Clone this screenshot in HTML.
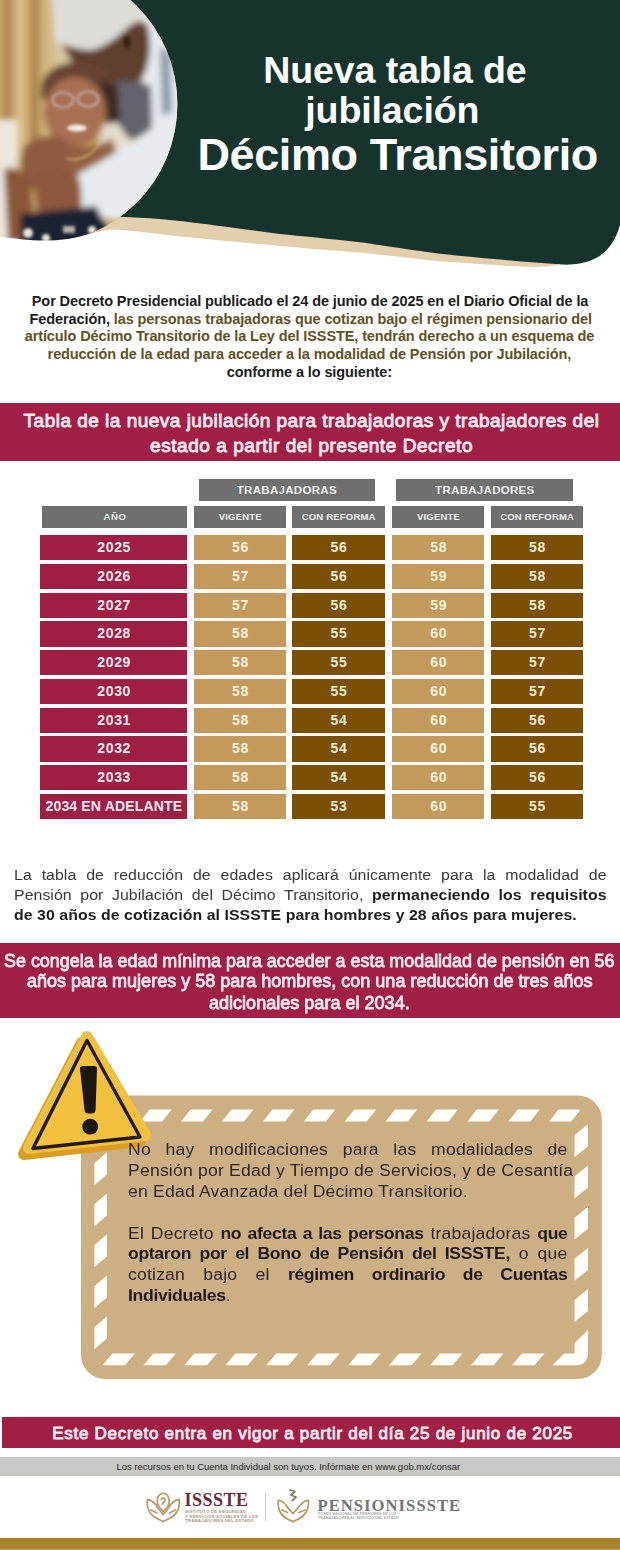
<!DOCTYPE html>
<html lang="es">
<head>
<meta charset="utf-8">
<title>Nueva tabla de jubilación Décimo Transitorio</title>
<style>
*{margin:0;padding:0;box-sizing:border-box}
html,body{width:620px;height:1550px;overflow:hidden;background:#fff}
body{position:relative;font-family:"Liberation Sans",sans-serif}
.abs{position:absolute}
.ln{position:absolute;white-space:nowrap;transform-origin:0 50%}
.w{color:#fff;font-weight:bold}
.intro{font-weight:bold;color:#1c1c1c;letter-spacing:-0.1px}
.ol{color:#615126}
.band{position:absolute;left:0;width:620px;background:#a11f44}
.bt{color:#fbeaf0;font-weight:bold}
.bs{color:#fbeaf0;font-weight:normal;-webkit-text-stroke:0.85px #fbeaf0}
.cell{position:absolute;text-align:center;font-weight:bold;white-space:nowrap}
.hd{background:#6f6f6f;color:#f2f2f2}
.yr{background:#9f1e43;color:#f8e8ef}
.tan{background:#c4995c;color:#fdf3de}
.brn{background:#7a5007;color:#f9eed6}
.para{color:#3a3a3a;letter-spacing:0.05px}
.para b{color:#1e1e1e}
.box{color:#2d241b;letter-spacing:0.17px}
.box b{letter-spacing:-0.3px;color:#201810}
.jl{position:absolute;text-align:justify;text-align-last:justify;white-space:nowrap}
</style>
</head>
<body>
<svg class="abs" style="left:0;top:0" width="620" height="290" viewBox="0 0 620 290">
<defs>
<clipPath id="circ"><circle cx="38" cy="104.3" r="139.4"/></clipPath>
<filter id="bl" x="-30%" y="-30%" width="160%" height="160%"><feGaussianBlur stdDeviation="3"/></filter>
<filter id="bl2" x="-30%" y="-30%" width="160%" height="160%"><feGaussianBlur stdDeviation="1.5"/></filter>
</defs>
<path d="M90 200 L557 200 L557 272 L90 272 Z" fill="#e3ceae"/>
<path d="M0 0 L620 0 L620 224.8 C616 240 608 252 596 258 C585 263.5 575 265 562 264.6 C520 261.5 470 257 440 253.8 C400 248.5 370 243.5 360 242.3 C330 238.5 300 236 280 233.9 C240 229 200 223 180 221 C160 219 140 217.5 120.6 216.8 L0 216 Z" fill="#16342d"/>
<g clip-path="url(#circ)">
<rect x="-110" y="0" width="300" height="260" fill="#c4a169"/>
<g filter="url(#bl)">
<rect x="-15" y="-20" width="85" height="280" fill="#c9a66b"/>
<rect x="3" y="-20" width="8" height="180" fill="#ae8650"/>
<rect x="17" y="-20" width="8" height="180" fill="#dcc08a"/>
<rect x="31" y="-20" width="7" height="170" fill="#a98250"/>
<rect x="44" y="-20" width="6" height="170" fill="#d8ba84"/>
<rect x="52" y="-20" width="18" height="90" fill="#d9c5a0"/>
<path d="M100 100 L130 105 L132 155 L100 160 Z" fill="#e6dccc"/>
<rect x="-15" y="120" width="32" height="140" fill="#ece6dd"/>

<rect x="70" y="-20" width="70" height="100" fill="#d2c5b0"/>
<path d="M140 -20 L190 -20 L190 245 L152 245 L140 150 L134 95 L142 80 Z" fill="#e6eaef"/>
<path d="M60 38 C75 48 100 50 118 34 C128 24 140 18 147 24 C153 42 150 68 140 82 C126 90 104 88 90 80 C78 72 66 56 60 38 Z" fill="#5f3f2f"/>
<path d="M50 -20 L152 -20 L146 16 C138 20 132 24 128 27 C118 37 106 46 92 50 C80 50 68 46 55 42 Z" fill="#e0ddd8"/>

<path d="M114 84 C126 80 140 80 151 86 L152 130 C146 138 136 140 128 138 L114 118 Z" fill="#62646c"/>
<path d="M160 48 L170 52 L172 112 L162 116 Z" fill="#8b97a8"/>
<path d="M41 90 C42 72 58 62 78 62 C98 62 112 72 116 88 C110 94 100 90 90 90 C75 90 55 96 41 100 Z" fill="#674230"/>
<path d="M98 80 L118 86 L120 122 L106 124 Z" fill="#3e2a22"/>
<ellipse cx="75" cy="112" rx="31" ry="35" fill="#a86f52"/>
<path d="M60 138 C75 150 95 150 112 138 L124 178 C105 188 80 188 64 178 Z" fill="#93603f"/>
<path d="M66 180 C95 166 130 146 176 110 L178 185 C160 205 140 218 120 220 C100 220 80 210 66 192 Z" fill="#e7ebf0"/>
<path d="M22 150 C30 136 52 132 66 140 C70 150 68 168 60 176 C50 186 40 190 30 190 C22 180 20 165 22 150 Z" fill="#8e5a3f"/>
<path d="M34 178 C46 166 66 166 78 176 C84 192 82 214 74 228 C62 236 46 234 38 222 Z" fill="#8d593c"/>
<path d="M4 170 C12 165 24 170 30 182 L36 240 L8 242 Z" fill="#8a5639"/>
<path d="M20 214 L96 206 L108 230 L104 248 L20 248 Z" fill="#1e2232"/>
</g>
<g filter="url(#bl2)">
<ellipse cx="63" cy="100" rx="10.5" ry="7.5" fill="none" stroke="#c9b4c4" stroke-width="1.7"/>
<ellipse cx="88" cy="99" rx="10.5" ry="7.5" fill="none" stroke="#c9b4c4" stroke-width="1.7"/>
<ellipse cx="77" cy="128" rx="10" ry="3.5" fill="#f4e9e4"/>
<path d="M66 158 C78 163 92 155 100 143" fill="none" stroke="#e0c78e" stroke-width="1.2"/>
<circle cx="28" cy="233" r="5" fill="#e8e4de"/>
<circle cx="46" cy="238" r="4" fill="#e8e4de"/>
<circle cx="92" cy="230" r="4" fill="#e8e4de"/>
<rect x="63" y="226" width="12" height="7" fill="#b9b3ad"/>
<ellipse cx="127" cy="42" rx="4" ry="6" fill="#3a2418"/>
</g>
</g>
<path d="M0 237 C10 238 30 240.5 45 240.6 C60 240.5 72 238.5 80 236.5 C90 234 100 231.5 110 229.6 C130 230 150 233.5 180 236.5 C220 240.5 250 243 280 246.1 C310 249 340 251 360 252.6 C390 255.5 420 259.5 440 261.3 C470 263.5 500 265.5 520 266.5 C535 267.2 548 267 556 265.5 L562 265.8 C575 266.5 590 270 620 276 L620 290 L0 290 Z" fill="#fff"/>
</svg>
<div class="ln w" style="left:263.3px;top:52.0px;font-size:37.5px;line-height:37.50px;letter-spacing:-0.1px">Nueva tabla de</div>
<div class="ln w" style="left:305.3px;top:92.0px;font-size:37.5px;line-height:37.50px;letter-spacing:-0.1px">jubilación</div>
<div class="ln w" style="left:197.5px;top:132.2px;font-size:45px;line-height:45.00px;letter-spacing:-0.4px">Décimo Transitorio</div>
<div class="ln intro" style="left:31.8px;top:294.1px;font-size:14.5px;line-height:14.50px;">Por Decreto Presidencial publicado el 24 de junio de 2025 en el Diario Oficial de la</div>
<div class="ln intro" style="left:29.6px;top:311.6px;font-size:14.5px;line-height:14.50px;">Federación,<span class="ol"> las personas trabajadoras que cotizan bajo el régimen pensionario del</span></div>
<div class="ln intro ol" style="left:24.7px;top:329.4px;font-size:14.5px;line-height:14.50px;">artículo Décimo Transitorio de la Ley del ISSSTE, tendrán derecho a un esquema de</div>
<div class="ln intro ol" style="left:47.6px;top:346.8px;font-size:14.5px;line-height:14.50px;">reducción de la edad para acceder a la modalidad de Pensión por Jubilación,</div>
<div class="ln intro" style="left:226.7px;top:364.7px;font-size:14.5px;line-height:14.50px;">conforme a lo siguiente:</div>
<div class="band" style="top:403.2px;height:58.2px"></div>
<div class="ln bs" style="left:23.6px;top:410.8px;font-size:19px;line-height:19.00px;letter-spacing:0.49px">Tabla de la nueva jubilación para trabajadoras y trabajadores del</div>
<div class="ln bs" style="left:150.1px;top:436.3px;font-size:19px;line-height:19.00px;letter-spacing:0.55px">estado a partir del presente Decreto</div>
<div class="cell hd" style="left:198.5px;top:478.6px;width:176.4px;height:22.2px;line-height:22.2px;font-size:11.5px;letter-spacing:0.3px;text-indent:0.3px"><span style="position:relative;top:0px">TRABAJADORAS</span></div>
<div class="cell hd" style="left:396.2px;top:478.6px;width:177.0px;height:22.2px;line-height:22.2px;font-size:11.5px;letter-spacing:0.3px;text-indent:0.3px"><span style="position:relative;top:0px">TRABAJADORES</span></div>
<div class="cell hd" style="left:41.9px;top:505.8px;width:145.5px;height:22.7px;line-height:22.7px;font-size:9.6px;letter-spacing:0.6px;text-indent:0.6px"><span style="position:relative;top:0px">AÑO</span></div>
<div class="cell hd" style="left:194.0px;top:505.8px;width:92.4px;height:22.7px;line-height:22.7px;font-size:9.5px;letter-spacing:0.2px;text-indent:0.2px"><span style="position:relative;top:0px">VIGENTE</span></div>
<div class="cell hd" style="left:292.4px;top:505.8px;width:92.4px;height:22.7px;line-height:22.7px;font-size:9.5px;letter-spacing:0.2px;text-indent:0.2px"><span style="position:relative;top:0px">CON REFORMA</span></div>
<div class="cell hd" style="left:392.3px;top:505.8px;width:92.2px;height:22.7px;line-height:22.7px;font-size:9.5px;letter-spacing:0.2px;text-indent:0.2px"><span style="position:relative;top:0px">VIGENTE</span></div>
<div class="cell hd" style="left:490.9px;top:505.8px;width:92.3px;height:22.7px;line-height:22.7px;font-size:9.5px;letter-spacing:0.2px;text-indent:0.2px"><span style="position:relative;top:0px">CON REFORMA</span></div>
<div class="cell yr" style="left:40.3px;top:534.9px;width:147.0px;height:25.4px;line-height:25.4px;font-size:14px;letter-spacing:0.7px;text-indent:0.7px"><span style="position:relative;top:0px">2025</span></div>
<div class="cell tan" style="left:194.0px;top:534.9px;width:92.4px;height:25.4px;line-height:25.4px;font-size:14px;letter-spacing:0.7px;text-indent:0.7px"><span style="position:relative;top:0px">56</span></div>
<div class="cell brn" style="left:292.4px;top:534.9px;width:92.4px;height:25.4px;line-height:25.4px;font-size:14px;letter-spacing:0.7px;text-indent:0.7px"><span style="position:relative;top:0px">56</span></div>
<div class="cell tan" style="left:392.3px;top:534.9px;width:92.2px;height:25.4px;line-height:25.4px;font-size:14px;letter-spacing:0.7px;text-indent:0.7px"><span style="position:relative;top:0px">58</span></div>
<div class="cell brn" style="left:490.9px;top:534.9px;width:92.3px;height:25.4px;line-height:25.4px;font-size:14px;letter-spacing:0.7px;text-indent:0.7px"><span style="position:relative;top:0px">58</span></div>
<div class="cell yr" style="left:40.3px;top:563.7px;width:147.0px;height:25.4px;line-height:25.4px;font-size:14px;letter-spacing:0.7px;text-indent:0.7px"><span style="position:relative;top:0px">2026</span></div>
<div class="cell tan" style="left:194.0px;top:563.7px;width:92.4px;height:25.4px;line-height:25.4px;font-size:14px;letter-spacing:0.7px;text-indent:0.7px"><span style="position:relative;top:0px">57</span></div>
<div class="cell brn" style="left:292.4px;top:563.7px;width:92.4px;height:25.4px;line-height:25.4px;font-size:14px;letter-spacing:0.7px;text-indent:0.7px"><span style="position:relative;top:0px">56</span></div>
<div class="cell tan" style="left:392.3px;top:563.7px;width:92.2px;height:25.4px;line-height:25.4px;font-size:14px;letter-spacing:0.7px;text-indent:0.7px"><span style="position:relative;top:0px">59</span></div>
<div class="cell brn" style="left:490.9px;top:563.7px;width:92.3px;height:25.4px;line-height:25.4px;font-size:14px;letter-spacing:0.7px;text-indent:0.7px"><span style="position:relative;top:0px">58</span></div>
<div class="cell yr" style="left:40.3px;top:592.5px;width:147.0px;height:25.4px;line-height:25.4px;font-size:14px;letter-spacing:0.7px;text-indent:0.7px"><span style="position:relative;top:0px">2027</span></div>
<div class="cell tan" style="left:194.0px;top:592.5px;width:92.4px;height:25.4px;line-height:25.4px;font-size:14px;letter-spacing:0.7px;text-indent:0.7px"><span style="position:relative;top:0px">57</span></div>
<div class="cell brn" style="left:292.4px;top:592.5px;width:92.4px;height:25.4px;line-height:25.4px;font-size:14px;letter-spacing:0.7px;text-indent:0.7px"><span style="position:relative;top:0px">56</span></div>
<div class="cell tan" style="left:392.3px;top:592.5px;width:92.2px;height:25.4px;line-height:25.4px;font-size:14px;letter-spacing:0.7px;text-indent:0.7px"><span style="position:relative;top:0px">59</span></div>
<div class="cell brn" style="left:490.9px;top:592.5px;width:92.3px;height:25.4px;line-height:25.4px;font-size:14px;letter-spacing:0.7px;text-indent:0.7px"><span style="position:relative;top:0px">58</span></div>
<div class="cell yr" style="left:40.3px;top:621.2px;width:147.0px;height:25.4px;line-height:25.4px;font-size:14px;letter-spacing:0.7px;text-indent:0.7px"><span style="position:relative;top:0px">2028</span></div>
<div class="cell tan" style="left:194.0px;top:621.2px;width:92.4px;height:25.4px;line-height:25.4px;font-size:14px;letter-spacing:0.7px;text-indent:0.7px"><span style="position:relative;top:0px">58</span></div>
<div class="cell brn" style="left:292.4px;top:621.2px;width:92.4px;height:25.4px;line-height:25.4px;font-size:14px;letter-spacing:0.7px;text-indent:0.7px"><span style="position:relative;top:0px">55</span></div>
<div class="cell tan" style="left:392.3px;top:621.2px;width:92.2px;height:25.4px;line-height:25.4px;font-size:14px;letter-spacing:0.7px;text-indent:0.7px"><span style="position:relative;top:0px">60</span></div>
<div class="cell brn" style="left:490.9px;top:621.2px;width:92.3px;height:25.4px;line-height:25.4px;font-size:14px;letter-spacing:0.7px;text-indent:0.7px"><span style="position:relative;top:0px">57</span></div>
<div class="cell yr" style="left:40.3px;top:650.0px;width:147.0px;height:25.4px;line-height:25.4px;font-size:14px;letter-spacing:0.7px;text-indent:0.7px"><span style="position:relative;top:0px">2029</span></div>
<div class="cell tan" style="left:194.0px;top:650.0px;width:92.4px;height:25.4px;line-height:25.4px;font-size:14px;letter-spacing:0.7px;text-indent:0.7px"><span style="position:relative;top:0px">58</span></div>
<div class="cell brn" style="left:292.4px;top:650.0px;width:92.4px;height:25.4px;line-height:25.4px;font-size:14px;letter-spacing:0.7px;text-indent:0.7px"><span style="position:relative;top:0px">55</span></div>
<div class="cell tan" style="left:392.3px;top:650.0px;width:92.2px;height:25.4px;line-height:25.4px;font-size:14px;letter-spacing:0.7px;text-indent:0.7px"><span style="position:relative;top:0px">60</span></div>
<div class="cell brn" style="left:490.9px;top:650.0px;width:92.3px;height:25.4px;line-height:25.4px;font-size:14px;letter-spacing:0.7px;text-indent:0.7px"><span style="position:relative;top:0px">57</span></div>
<div class="cell yr" style="left:40.3px;top:678.8px;width:147.0px;height:25.4px;line-height:25.4px;font-size:14px;letter-spacing:0.7px;text-indent:0.7px"><span style="position:relative;top:0px">2030</span></div>
<div class="cell tan" style="left:194.0px;top:678.8px;width:92.4px;height:25.4px;line-height:25.4px;font-size:14px;letter-spacing:0.7px;text-indent:0.7px"><span style="position:relative;top:0px">58</span></div>
<div class="cell brn" style="left:292.4px;top:678.8px;width:92.4px;height:25.4px;line-height:25.4px;font-size:14px;letter-spacing:0.7px;text-indent:0.7px"><span style="position:relative;top:0px">55</span></div>
<div class="cell tan" style="left:392.3px;top:678.8px;width:92.2px;height:25.4px;line-height:25.4px;font-size:14px;letter-spacing:0.7px;text-indent:0.7px"><span style="position:relative;top:0px">60</span></div>
<div class="cell brn" style="left:490.9px;top:678.8px;width:92.3px;height:25.4px;line-height:25.4px;font-size:14px;letter-spacing:0.7px;text-indent:0.7px"><span style="position:relative;top:0px">57</span></div>
<div class="cell yr" style="left:40.3px;top:707.6px;width:147.0px;height:25.4px;line-height:25.4px;font-size:14px;letter-spacing:0.7px;text-indent:0.7px"><span style="position:relative;top:0px">2031</span></div>
<div class="cell tan" style="left:194.0px;top:707.6px;width:92.4px;height:25.4px;line-height:25.4px;font-size:14px;letter-spacing:0.7px;text-indent:0.7px"><span style="position:relative;top:0px">58</span></div>
<div class="cell brn" style="left:292.4px;top:707.6px;width:92.4px;height:25.4px;line-height:25.4px;font-size:14px;letter-spacing:0.7px;text-indent:0.7px"><span style="position:relative;top:0px">54</span></div>
<div class="cell tan" style="left:392.3px;top:707.6px;width:92.2px;height:25.4px;line-height:25.4px;font-size:14px;letter-spacing:0.7px;text-indent:0.7px"><span style="position:relative;top:0px">60</span></div>
<div class="cell brn" style="left:490.9px;top:707.6px;width:92.3px;height:25.4px;line-height:25.4px;font-size:14px;letter-spacing:0.7px;text-indent:0.7px"><span style="position:relative;top:0px">56</span></div>
<div class="cell yr" style="left:40.3px;top:736.4px;width:147.0px;height:25.4px;line-height:25.4px;font-size:14px;letter-spacing:0.7px;text-indent:0.7px"><span style="position:relative;top:0px">2032</span></div>
<div class="cell tan" style="left:194.0px;top:736.4px;width:92.4px;height:25.4px;line-height:25.4px;font-size:14px;letter-spacing:0.7px;text-indent:0.7px"><span style="position:relative;top:0px">58</span></div>
<div class="cell brn" style="left:292.4px;top:736.4px;width:92.4px;height:25.4px;line-height:25.4px;font-size:14px;letter-spacing:0.7px;text-indent:0.7px"><span style="position:relative;top:0px">54</span></div>
<div class="cell tan" style="left:392.3px;top:736.4px;width:92.2px;height:25.4px;line-height:25.4px;font-size:14px;letter-spacing:0.7px;text-indent:0.7px"><span style="position:relative;top:0px">60</span></div>
<div class="cell brn" style="left:490.9px;top:736.4px;width:92.3px;height:25.4px;line-height:25.4px;font-size:14px;letter-spacing:0.7px;text-indent:0.7px"><span style="position:relative;top:0px">56</span></div>
<div class="cell yr" style="left:40.3px;top:765.1px;width:147.0px;height:25.4px;line-height:25.4px;font-size:14px;letter-spacing:0.7px;text-indent:0.7px"><span style="position:relative;top:0px">2033</span></div>
<div class="cell tan" style="left:194.0px;top:765.1px;width:92.4px;height:25.4px;line-height:25.4px;font-size:14px;letter-spacing:0.7px;text-indent:0.7px"><span style="position:relative;top:0px">58</span></div>
<div class="cell brn" style="left:292.4px;top:765.1px;width:92.4px;height:25.4px;line-height:25.4px;font-size:14px;letter-spacing:0.7px;text-indent:0.7px"><span style="position:relative;top:0px">54</span></div>
<div class="cell tan" style="left:392.3px;top:765.1px;width:92.2px;height:25.4px;line-height:25.4px;font-size:14px;letter-spacing:0.7px;text-indent:0.7px"><span style="position:relative;top:0px">60</span></div>
<div class="cell brn" style="left:490.9px;top:765.1px;width:92.3px;height:25.4px;line-height:25.4px;font-size:14px;letter-spacing:0.7px;text-indent:0.7px"><span style="position:relative;top:0px">56</span></div>
<div class="cell yr" style="left:40.3px;top:793.9px;width:147.0px;height:25.4px;line-height:25.4px;font-size:14px;letter-spacing:0.17px;text-indent:0.17px"><span style="position:relative;top:0px">2034 EN ADELANTE</span></div>
<div class="cell tan" style="left:194.0px;top:793.9px;width:92.4px;height:25.4px;line-height:25.4px;font-size:14px;letter-spacing:0.7px;text-indent:0.7px"><span style="position:relative;top:0px">58</span></div>
<div class="cell brn" style="left:292.4px;top:793.9px;width:92.4px;height:25.4px;line-height:25.4px;font-size:14px;letter-spacing:0.7px;text-indent:0.7px"><span style="position:relative;top:0px">53</span></div>
<div class="cell tan" style="left:392.3px;top:793.9px;width:92.2px;height:25.4px;line-height:25.4px;font-size:14px;letter-spacing:0.7px;text-indent:0.7px"><span style="position:relative;top:0px">60</span></div>
<div class="cell brn" style="left:490.9px;top:793.9px;width:92.3px;height:25.4px;line-height:25.4px;font-size:14px;letter-spacing:0.7px;text-indent:0.7px"><span style="position:relative;top:0px">55</span></div>
<div class="jl para" style="left:14px;width:548.70px;top:868.0px;font-size:14.7px;line-height:14.7px;transform:scaleX(1.08);transform-origin:0 0;">La tabla de reducción de edades aplicará únicamente para la modalidad de</div>
<div class="jl para" style="left:14px;width:548.70px;top:887.8px;font-size:14.7px;line-height:14.7px;transform:scaleX(1.08);transform-origin:0 0;">Pensión por Jubilación del Décimo Transitorio, <b>permaneciendo los requisitos</b></div>
<div class="ln para" style="left:14px;top:907.6px;font-size:14.7px;line-height:14.7px;transform:scaleX(1.08);transform-origin:0 0;"><b>de 30 años de cotización al ISSSTE para hombres y 28 años para mujeres.</b></div>
<div class="band" style="top:942.7px;height:75.8px"></div>
<div class="ln bs" style="left:4.4px;top:950.9px;font-size:19px;line-height:19px;transform:scaleX(0.9427);transform-origin:0 0">Se congela la edad mínima para acceder a esta modalidad de pensión en 56</div>
<div class="ln bs" style="left:26.9px;top:971.2px;font-size:19px;line-height:19px;transform:scaleX(0.9478);transform-origin:0 0">años para mujeres y 58 para hombres, con una reducción de tres años</div>
<div class="ln bs" style="left:209.2px;top:992.8px;font-size:19px;line-height:19px;transform:scaleX(0.9500);transform-origin:0 0">adicionales para el 2034.</div>
<svg class="abs" style="left:0;top:1020px" width="620" height="370" viewBox="0 1020 620 370"><defs><clipPath id="ring"><path clip-rule="evenodd" d="M105.4 1109.5 H577.0 A11 11 0 0 1 588.0 1120.5 V1354.2 A11 11 0 0 1 577.0 1365.2 H105.4 A11 11 0 0 1 94.4 1354.2 V1120.5 A11 11 0 0 1 105.4 1109.5 Z M107.0 1121.6 H574.5 V1353.5 H107.0 Z"/></clipPath></defs><rect x="81.0" y="1095.5" width="520.8" height="283.5" rx="24" fill="#cdaf84"/><g clip-path="url(#ring)" fill="#fffdf7"><polygon points="98.5,1122.6 120.5,1122.6 131.5,1108.5 109.5,1108.5"/><polygon points="139.4,1122.6 161.4,1122.6 172.4,1108.5 150.4,1108.5"/><polygon points="180.3,1122.6 202.3,1122.6 213.3,1108.5 191.3,1108.5"/><polygon points="221.2,1122.6 243.2,1122.6 254.2,1108.5 232.2,1108.5"/><polygon points="262.1,1122.6 284.1,1122.6 295.1,1108.5 273.1,1108.5"/><polygon points="303.0,1122.6 325.0,1122.6 336.0,1108.5 314.0,1108.5"/><polygon points="343.9,1122.6 365.9,1122.6 376.9,1108.5 354.9,1108.5"/><polygon points="384.8,1122.6 406.8,1122.6 417.8,1108.5 395.8,1108.5"/><polygon points="425.7,1122.6 447.7,1122.6 458.7,1108.5 436.7,1108.5"/><polygon points="466.6,1122.6 488.6,1122.6 499.6,1108.5 477.6,1108.5"/><polygon points="507.5,1122.6 529.5,1122.6 540.5,1108.5 518.5,1108.5"/><polygon points="548.4,1122.6 570.4,1122.6 581.4,1108.5 559.4,1108.5"/><polygon points="101.7,1366.2 124.2,1366.2 135.7,1352.5 113.2,1352.5"/><polygon points="142.7,1366.2 165.2,1366.2 176.7,1352.5 154.2,1352.5"/><polygon points="183.6,1366.2 206.1,1366.2 217.6,1352.5 195.1,1352.5"/><polygon points="224.6,1366.2 247.1,1366.2 258.6,1352.5 236.1,1352.5"/><polygon points="265.5,1366.2 288.0,1366.2 299.5,1352.5 277.0,1352.5"/><polygon points="306.4,1366.2 328.9,1366.2 340.4,1352.5 317.9,1352.5"/><polygon points="347.4,1366.2 369.9,1366.2 381.4,1352.5 358.9,1352.5"/><polygon points="388.4,1366.2 410.9,1366.2 422.4,1352.5 399.9,1352.5"/><polygon points="429.3,1366.2 451.8,1366.2 463.3,1352.5 440.8,1352.5"/><polygon points="470.2,1366.2 492.8,1366.2 504.2,1352.5 481.8,1352.5"/><polygon points="511.2,1366.2 533.7,1366.2 545.2,1352.5 522.7,1352.5"/><polygon points="538,1379.7 592,1325.7 600,1325.7 600,1380 538,1380"/><polygon points="573.5,1136.0 589.0,1123.5 589.0,1145.5 573.5,1158.0"/><polygon points="573.5,1177.2 589.0,1164.7 589.0,1186.7 573.5,1199.2"/><polygon points="573.5,1218.4 589.0,1205.9 589.0,1227.9 573.5,1240.4"/><polygon points="573.5,1259.6 589.0,1247.1 589.0,1269.1 573.5,1281.6"/><polygon points="573.5,1300.8 589.0,1288.3 589.0,1310.3 573.5,1322.8"/><polygon points="93.4,1123.1 108.0,1110.5 108.0,1132.5 93.4,1145.1"/><polygon points="93.4,1164.1 108.0,1151.5 108.0,1173.5 93.4,1186.1"/><polygon points="93.4,1205.1 108.0,1192.5 108.0,1214.5 93.4,1227.1"/><polygon points="93.4,1246.1 108.0,1233.5 108.0,1255.5 93.4,1268.1"/><polygon points="93.4,1287.1 108.0,1274.5 108.0,1296.5 93.4,1309.1"/><polygon points="93.4,1328.1 108.0,1315.5 108.0,1337.5 93.4,1350.1"/></g><g stroke-linejoin="round">
<polygon points="82,1043 24,1154 140,1141" fill="#dc9e22" stroke="#dc9e22" stroke-width="12"/>
<polygon points="87,1037 29,1148 145,1135" fill="#f4c03f" stroke="#f4c03f" stroke-width="12"/>
<polygon points="87,1040.5 33,1148.5 140,1137" fill="none" stroke="#221a10" stroke-width="3.4"/>
<path d="M80 1069 C80 1065.5 82 1066 88.5 1066 C95 1066 97 1065.5 97 1069 L95.6 1109 C95.5 1113 94 1113.5 90 1113.5 C86 1113.5 84.5 1113 84.4 1109 Z" fill="#1d1712"/>
<circle cx="90.2" cy="1126.6" r="7.9" fill="#1d1712"/>
</g></svg>
<div class="jl box" style="left:128px;width:399.55px;top:1141.9px;font-size:16px;line-height:16px;transform:scaleX(1.1);transform-origin:0 0;">No hay modificaciones para las modalidades de</div>
<div class="jl box" style="left:128px;width:399.55px;top:1162.8px;font-size:16px;line-height:16px;transform:scaleX(1.1);transform-origin:0 0;">Pensión por Edad y Tiempo de Servicios, y de Cesantía</div>
<div class="ln box" style="left:128px;top:1183.7px;font-size:16px;line-height:16px;transform:scaleX(1.1);transform-origin:0 0;">en Edad Avanzada del Décimo Transitorio.</div>
<div class="jl box" style="left:128px;width:399.55px;top:1225.5px;font-size:16px;line-height:16px;transform:scaleX(1.1);transform-origin:0 0;">El Decreto <b>no afecta a las personas</b> trabajadoras <b>que</b></div>
<div class="jl box" style="left:128px;width:399.55px;top:1246.4px;font-size:16px;line-height:16px;transform:scaleX(1.1);transform-origin:0 0;"><b>optaron por el Bono de Pensión del ISSSTE,</b> o que</div>
<div class="jl box" style="left:128px;width:399.55px;top:1267.3px;font-size:16px;line-height:16px;transform:scaleX(1.1);transform-origin:0 0;">cotizan bajo el <b>régimen ordinario de Cuentas</b></div>
<div class="ln box" style="left:128px;top:1288.2px;font-size:16px;line-height:16px;transform:scaleX(1.1);transform-origin:0 0;"><b>Individuales</b>.</div>
<div class="band" style="left:1.5px;width:618.5px;top:1416.9px;height:30.9px"></div>
<div class="ln bs" style="left:52.2px;top:1424.8px;font-size:17px;line-height:17.00px;letter-spacing:0.725px">Este Decreto entra en vigor a partir del día 25 de junio de 2025</div>
<div class="abs" style="left:0;top:1457.3px;width:620px;height:18.9px;background:#c8c8c4"></div>
<div class="ln " style="left:116.4px;top:1461.8px;font-size:9.5px;line-height:9.50px;color:#262626">Los recursos en tu Cuenta Individual son tuyos. Infórmate en www.gob.mx/consar</div>
<svg class="abs" style="left:0;top:1485px" width="620" height="50" viewBox="0 1485 620 50">
<g fill="none" stroke="#b89c6e" stroke-width="1.8" stroke-linecap="round" stroke-linejoin="round">
<path d="M147.5 1499.5 C146 1508 150 1515 157 1518.5 L163.2 1521.5 L169.5 1518.5 C176.5 1515 180.5 1508 179 1499.5 C175 1500 171 1503 168.5 1508 L163.2 1514.5 L158 1508 C155.5 1503 151.5 1500 147.5 1499.5 Z"/>
<path d="M151 1510 L157 1513 M175.5 1510 L169.5 1513"/>
<path d="M160 1494.5 C157 1496.5 156.5 1502 158.5 1506 L163.2 1511.5 L168 1506 C170 1502 169.5 1496.5 166.5 1494.5 C164.5 1493.2 162 1493.2 160 1494.5 Z"/>
<path d="M161.5 1499 C163 1497.5 165 1498 165 1500 C165 1502 162.5 1502.5 162.5 1504.5"/>
</g>
<text x="184.5" y="1505.8" font-family="Liberation Serif" font-weight="bold" font-size="18" letter-spacing="0.5" fill="#6c2a44">ISSSTE</text>
<g font-family="Liberation Sans" font-size="4.4" fill="#ad9784" font-weight="bold" letter-spacing="0.15">
<text x="185" y="1513.3">INSTITUTO DE SEGURIDAD</text>
<text x="185" y="1517.8">Y SERVICIOS SOCIALES DE LOS</text>
<text x="185" y="1522.3">TRABAJADORES DEL ESTADO</text>
</g>
<rect x="265" y="1493" width="1" height="28" fill="#d2d2d2"/>
<g fill="none" stroke="#b89c6e" stroke-width="1.8" stroke-linecap="round" stroke-linejoin="round">
<path d="M278.5 1500 C277 1509 281 1516 287.5 1519 L293 1521.6 L298.5 1519 C305 1516 309.5 1509 308.3 1500.2 C304 1501 300.5 1504 298 1508 L293 1513.5 L288 1508 C285.5 1504 282.5 1501 278.5 1500 Z"/>
<path d="M282 1510 L287.5 1512.5 M305 1510 L299 1512.5"/>
</g>
<path d="M290 1490 L295 1491.5 L291 1495 L296 1497 L292.5 1500.5" fill="none" stroke="#8a7a66" stroke-width="1.8" stroke-linecap="round" stroke-linejoin="round"/>
<text x="317.5" y="1510.7" font-family="Liberation Serif" font-weight="bold" font-size="16.6" letter-spacing="1.05" fill="#747474">PENSIONISSSTE</text>
<g font-family="Liberation Sans" font-size="3.6" fill="#aaaaaa" font-weight="bold" letter-spacing="0.1">
<text x="318" y="1514.8">FONDO NACIONAL DE PENSIONES DE LOS</text>
<text x="318" y="1518.6">TRABAJADORES AL SERVICIO DEL ESTADO</text>
</g>
</svg>
<div class="abs" style="left:0;top:1538.4px;width:620px;height:11.6px;background:#a8822f"></div>
<div class="abs" style="left:0;top:1548.8px;width:620px;height:1.2px;background:#c9a552"></div>
</body>
</html>
